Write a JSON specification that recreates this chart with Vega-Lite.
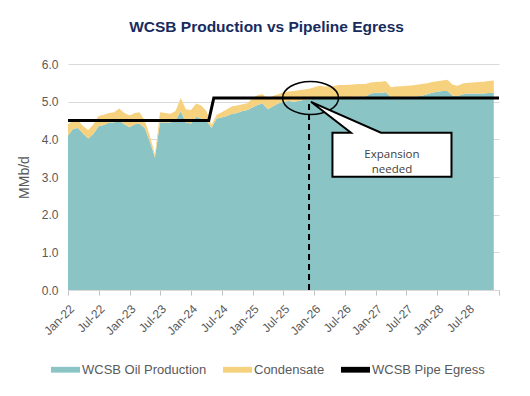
{
  "$schema": "https://vega.github.io/schema/vega-lite/v6.json",
  "width": 431,
  "height": 226,
  "autosize": {"type": "none"},
  "padding": {"left": 68, "top": 64, "right": 31, "bottom": 106},
  "background": "white",
  "title": {"text": "WCSB Production vs Pipeline Egress", "font": "Liberation Sans", "fontSize": 15.5, "fontWeight": "bold", "color": "#172B5E", "anchor": "middle", "frame": "group", "dx": -17, "baseline": "alphabetic", "offset": 11},
  "config": {
    "view": {"stroke": null},
    "font": "Liberation Sans",
    "axisY": {
      "domain": false, "ticks": false, "format": ".1f",
      "gridColor": "#D9D9D9", "labelColor": "#595959", "labelFontSize": 12, "labelPadding": 10,
      "titleColor": "#595959", "titleFontSize": 14, "titleFontWeight": "normal", "titlePadding": 10
    },
    "axisX": {
      "labelAngle": -45, "labelAlign": "right", "labelBaseline": "top",
      "labelColor": "#595959", "labelFontSize": 12, "labelPadding": 8,
      "labelOverlap": false, "labelFlush": false, "labelBound": false,
      "tickColor": "#BFBFBF", "domainColor": "#D9D9D9", "tickSize": 5, "grid": false
    }
  },
  "datasets": {
    "production": [
      {"month": "2022/01/01", "oil": 4.10, "condensate": 0.30},
      {"month": "2022/02/01", "oil": 4.28, "condensate": 0.22},
      {"month": "2022/03/01", "oil": 4.30, "condensate": 0.20},
      {"month": "2022/04/01", "oil": 4.15, "condensate": 0.20},
      {"month": "2022/05/01", "oil": 4.02, "condensate": 0.23},
      {"month": "2022/06/01", "oil": 4.15, "condensate": 0.25},
      {"month": "2022/07/01", "oil": 4.35, "condensate": 0.27},
      {"month": "2022/08/01", "oil": 4.38, "condensate": 0.27},
      {"month": "2022/09/01", "oil": 4.45, "condensate": 0.25},
      {"month": "2022/10/01", "oil": 4.45, "condensate": 0.27},
      {"month": "2022/11/01", "oil": 4.50, "condensate": 0.32},
      {"month": "2022/12/01", "oil": 4.40, "condensate": 0.30},
      {"month": "2023/01/01", "oil": 4.32, "condensate": 0.31},
      {"month": "2023/02/01", "oil": 4.40, "condensate": 0.30},
      {"month": "2023/03/01", "oil": 4.42, "condensate": 0.30},
      {"month": "2023/04/01", "oil": 4.30, "condensate": 0.20},
      {"month": "2023/05/01", "oil": 3.95, "condensate": 0.15},
      {"month": "2023/06/01", "oil": 3.52, "condensate": 0.08},
      {"month": "2023/07/01", "oil": 4.45, "condensate": 0.27},
      {"month": "2023/08/01", "oil": 4.45, "condensate": 0.25},
      {"month": "2023/09/01", "oil": 4.45, "condensate": 0.23},
      {"month": "2023/10/01", "oil": 4.50, "condensate": 0.25},
      {"month": "2023/11/01", "oil": 4.75, "condensate": 0.35},
      {"month": "2023/12/01", "oil": 4.45, "condensate": 0.35},
      {"month": "2024/01/01", "oil": 4.42, "condensate": 0.36},
      {"month": "2024/02/01", "oil": 4.60, "condensate": 0.35},
      {"month": "2024/03/01", "oil": 4.55, "condensate": 0.35},
      {"month": "2024/04/01", "oil": 4.50, "condensate": 0.25},
      {"month": "2024/05/01", "oil": 4.30, "condensate": 0.08},
      {"month": "2024/06/01", "oil": 4.55, "condensate": 0.10},
      {"month": "2024/07/01", "oil": 4.58, "condensate": 0.14},
      {"month": "2024/08/01", "oil": 4.62, "condensate": 0.18},
      {"month": "2024/09/01", "oil": 4.68, "condensate": 0.20},
      {"month": "2024/10/01", "oil": 4.70, "condensate": 0.20},
      {"month": "2024/11/01", "oil": 4.75, "condensate": 0.18},
      {"month": "2024/12/01", "oil": 4.78, "condensate": 0.18},
      {"month": "2025/01/01", "oil": 4.85, "condensate": 0.25},
      {"month": "2025/02/01", "oil": 4.92, "condensate": 0.26},
      {"month": "2025/03/01", "oil": 4.95, "condensate": 0.25},
      {"month": "2025/04/01", "oil": 4.80, "condensate": 0.28},
      {"month": "2025/05/01", "oil": 4.88, "condensate": 0.27},
      {"month": "2025/06/01", "oil": 4.95, "condensate": 0.25},
      {"month": "2025/07/01", "oil": 5.00, "condensate": 0.25},
      {"month": "2025/08/01", "oil": 5.02, "condensate": 0.25},
      {"month": "2025/09/01", "oil": 5.00, "condensate": 0.28},
      {"month": "2025/10/01", "oil": 5.02, "condensate": 0.28},
      {"month": "2025/11/01", "oil": 5.05, "condensate": 0.27},
      {"month": "2025/12/01", "oil": 5.06, "condensate": 0.28},
      {"month": "2026/01/01", "oil": 5.08, "condensate": 0.30},
      {"month": "2026/02/01", "oil": 5.10, "condensate": 0.32},
      {"month": "2026/03/01", "oil": 5.08, "condensate": 0.32},
      {"month": "2026/04/01", "oil": 5.10, "condensate": 0.30},
      {"month": "2026/05/01", "oil": 5.10, "condensate": 0.32},
      {"month": "2026/06/01", "oil": 5.12, "condensate": 0.32},
      {"month": "2026/07/01", "oil": 5.12, "condensate": 0.32},
      {"month": "2026/08/01", "oil": 5.12, "condensate": 0.33},
      {"month": "2026/09/01", "oil": 5.13, "condensate": 0.33},
      {"month": "2026/10/01", "oil": 5.14, "condensate": 0.33},
      {"month": "2026/11/01", "oil": 5.14, "condensate": 0.33},
      {"month": "2026/12/01", "oil": 5.22, "condensate": 0.29},
      {"month": "2027/01/01", "oil": 5.24, "condensate": 0.28},
      {"month": "2027/02/01", "oil": 5.24, "condensate": 0.29},
      {"month": "2027/03/01", "oil": 5.25, "condensate": 0.30},
      {"month": "2027/04/01", "oil": 5.12, "condensate": 0.26},
      {"month": "2027/05/01", "oil": 5.12, "condensate": 0.28},
      {"month": "2027/06/01", "oil": 5.12, "condensate": 0.29},
      {"month": "2027/07/01", "oil": 5.13, "condensate": 0.29},
      {"month": "2027/08/01", "oil": 5.13, "condensate": 0.30},
      {"month": "2027/09/01", "oil": 5.14, "condensate": 0.31},
      {"month": "2027/10/01", "oil": 5.16, "condensate": 0.31},
      {"month": "2027/11/01", "oil": 5.20, "condensate": 0.29},
      {"month": "2027/12/01", "oil": 5.24, "condensate": 0.28},
      {"month": "2028/01/01", "oil": 5.26, "condensate": 0.28},
      {"month": "2028/02/01", "oil": 5.28, "condensate": 0.28},
      {"month": "2028/03/01", "oil": 5.28, "condensate": 0.30},
      {"month": "2028/04/01", "oil": 5.16, "condensate": 0.29},
      {"month": "2028/05/01", "oil": 5.15, "condensate": 0.27},
      {"month": "2028/06/01", "oil": 5.20, "condensate": 0.28},
      {"month": "2028/07/01", "oil": 5.22, "condensate": 0.28},
      {"month": "2028/08/01", "oil": 5.22, "condensate": 0.29},
      {"month": "2028/09/01", "oil": 5.22, "condensate": 0.30},
      {"month": "2028/10/01", "oil": 5.22, "condensate": 0.31},
      {"month": "2028/11/01", "oil": 5.23, "condensate": 0.32},
      {"month": "2028/12/01", "oil": 5.23, "condensate": 0.33}
    ],
    "egress": [
      {"date": "2022/01/01", "capacity": 4.5},
      {"date": "2024/04/15", "capacity": 4.5},
      {"date": "2024/05/15", "capacity": 5.1},
      {"date": "2029/01/01", "capacity": 5.1}
    ]
  },
  "layer": [
    {
      "data": {"name": "production"},
      "transform": [{"fold": ["oil", "condensate"], "as": ["series", "value"]}],
      "mark": {"type": "area", "opacity": 1},
      "encoding": {
        "x": {
          "field": "month", "type": "temporal", "timeUnit": "yearmonth", "bandPosition": 0.5, "title": null,
          "scale": {"domain": [{"year": 2022, "month": 1, "date": 1}, {"year": 2029, "month": 1, "date": 1}]},
          "axis": {
            "title": null, "tickCount": {"interval": "month", "step": 6},
            "labelExpr": "year(datum.value) >= 2029 ? '' : timeFormat(datum.value, '%b-%y')"
          }
        },
        "y": {
          "field": "value", "type": "quantitative", "stack": "zero", "title": "MMb/d",
          "scale": {"domain": [0, 6], "nice": false},
          "axis": {"title": "MMb/d", "values": [0, 1, 2, 3, 4, 5, 6], "tickCount": 7}
        },
        "color": {
          "field": "series", "type": "nominal",
          "scale": {"domain": ["oil", "condensate", "egress"], "range": ["#8AC4C5", "#F6D17E", "#000000"]},
          "legend": {
            "title": null, "orient": "none", "legendX": -17, "legendY": 291, "direction": "horizontal",
            "symbolType": "M-1,-0.2H1V0.2H-1Z", "symbolSize": 841, "symbolStrokeWidth": 0,
            "labelExpr": "datum.value == 'oil' ? 'WCSB Oil Production' : datum.value == 'condensate' ? 'Condensate' : 'WCSB Pipe Egress'",
            "labelFontSize": 13, "labelColor": "#595959", "labelOffset": 2, "columnPadding": 16,
            "encode": {"symbols": {"update": {"shape": {"signal": "datum.value == 'egress' ? 'M-1.1,-0.12H1.1V0.12H-1.1Z' : 'M-1,-0.2H1V0.2H-1Z'"}}}}
          }
        },
        "order": {"field": "series", "sort": "descending"}
      }
    },
    {
      "data": {"name": "egress"},
      "mark": {"type": "line", "color": "black", "strokeWidth": 3},
      "encoding": {
        "x": {"field": "date", "type": "temporal", "title": null},
        "y": {"field": "capacity", "type": "quantitative", "title": "MMb/d", "axis": {"title": "MMb/d", "values": [0, 1, 2, 3, 4, 5, 6], "tickCount": 7}}
      }
    },
    {
      "data": {"values": [{"date": "2025/12/01", "bottom": 0, "top": 5.0}]},
      "mark": {"type": "rule", "color": "black", "strokeWidth": 2, "strokeDash": [6, 4]},
      "encoding": {
        "x": {"field": "date", "type": "temporal", "title": null},
        "y": {"field": "bottom", "type": "quantitative", "title": "MMb/d", "axis": {"title": "MMb/d", "values": [0, 1, 2, 3, 4, 5, 6], "tickCount": 7}},
        "y2": {"field": "top"}
      }
    },
    {
      "data": {"values": [{"date": "2025/12/10", "value": 5.1}]},
      "mark": {"type": "point", "shape": "M1,0C1,0.3254,0.5523,0.589,0,0.589C-0.5523,0.589,-1,0.3254,-1,0C-1,-0.3254,-0.5523,-0.589,0,-0.589C0.5523,-0.589,1,-0.3254,1,0Z", "size": 3136, "filled": false, "stroke": "black", "strokeWidth": 1.5, "opacity": 1},
      "encoding": {
        "x": {"field": "date", "type": "temporal", "title": null},
        "y": {"field": "value", "type": "quantitative", "title": "MMb/d", "axis": {"title": "MMb/d", "values": [0, 1, 2, 3, 4, 5, 6], "tickCount": 7}}
      }
    },
    {
      "data": {"values": [{"date": "2027/04/07", "value": 3.59}]},
      "mark": {"type": "point", "shape": "M-0.992,-0.367L-0.683,-0.367L-1.35,-0.883L-0.183,-0.367L0.992,-0.367L0.992,0.367L-0.992,0.367Z", "size": 14400, "filled": true, "fill": "white", "stroke": "black", "strokeWidth": 2, "opacity": 1},
      "encoding": {
        "x": {"field": "date", "type": "temporal", "title": null},
        "y": {"field": "value", "type": "quantitative", "title": "MMb/d", "axis": {"title": "MMb/d", "values": [0, 1, 2, 3, 4, 5, 6], "tickCount": 7}}
      }
    },
    {
      "data": {"values": [{"date": "2027/04/07", "value": 3.59, "label": "Expansion\nneeded"}]},
      "mark": {"type": "text", "font": "Open Sans", "fontSize": 11.5, "color": "#404040", "lineBreak": "\n", "lineHeight": 15, "align": "center", "baseline": "middle"},
      "encoding": {
        "x": {"field": "date", "type": "temporal", "title": null},
        "y": {"field": "value", "type": "quantitative", "title": "MMb/d", "axis": {"title": "MMb/d", "values": [0, 1, 2, 3, 4, 5, 6], "tickCount": 7}},
        "text": {"field": "label"}
      }
    }
  ]
}
